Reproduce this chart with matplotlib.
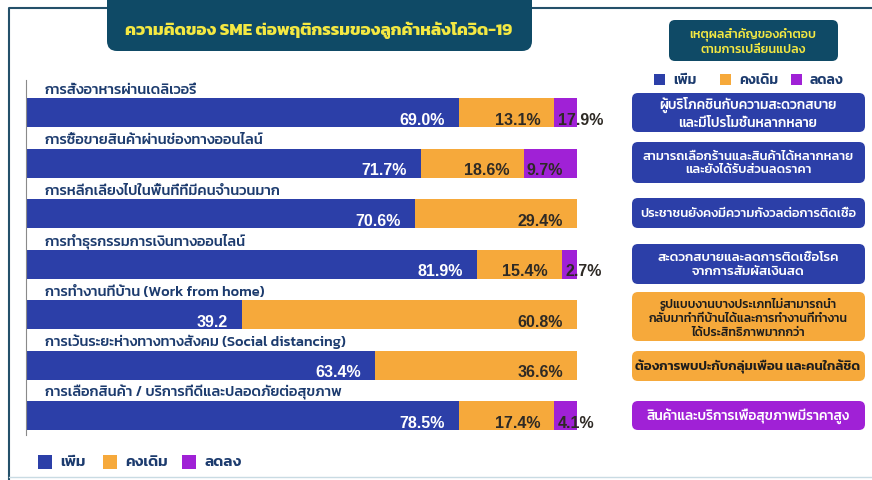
import matplotlib

matplotlib.use("Agg")
import matplotlib.pyplot as plt
from matplotlib.patches import FancyBboxPatch, Rectangle

plt.rcParams["font.family"] = ["Kanit", "DejaVu Sans"]

W, H = 872, 481
BLUE = "#2c3fa8"
ORANGE = "#f6a93b"
PURPLE = "#a021d6"
NAVY = "#1c3b6e"
TEAL = "#0f4a66"
YELLOW = "#f4e842"

TITLE = "ความคิดของ SME ต่อพฤติกรรมของลูกค้าหลังโควิด-19"
SERIES = ["เพิ่ม", "คงเดิม", "ลดลง"]

categories = [
    "การสั่งอาหารผ่านเดลิเวอรี่",
    "การซื้อขายสินค้าผ่านช่องทางออนไลน์",
    "การหลีกเลี่ยงไปในพื้นที่ที่มีคนจำนวนมาก",
    "การทำธุรกรรมการเงินทางออนไลน์",
    "การทำงานที่บ้าน (Work from home)",
    "การเว้นระยะห่างทางทางสังคม (Social distancing)",
    "การเลือกสินค้า / บริการที่ดีและปลอดภัยต่อสุขภาพ",
]
# bar lengths as drawn in the source (first row is drawn with the last row's split)
increase = [78.5, 71.7, 70.6, 81.9, 39.2, 63.4, 78.5]
same = [17.4, 18.6, 29.4, 15.4, 60.8, 36.6, 17.4]
decrease = [4.1, 9.7, 0.0, 2.7, 0.0, 0.0, 4.1]
# printed labels
increase_labels = ["69.0%", "71.7%", "70.6%", "81.9%", "39.2", "63.4%", "78.5%"]
same_labels = ["13.1%", "18.6%", "29.4%", "15.4%", "60.8%", "36.6%", "17.4%"]
decrease_labels = ["17.9%", "9.7%", "", "2.7%", "", "", "4.1%"]

panel_title = "เหตุผลสำคัญของคำตอบ\nตามการเปลี่ยนแปลง"
reasons = [
    "ผู้บริโภคชินกับความสะดวกสบาย\nและมีโปรโมชั่นหลากหลาย",
    "สามารถเลือกร้านและสินค้าได้หลากหลาย\nและยังได้รับส่วนลดราคา",
    "ประชาชนยังคงมีความกังวลต่อการติดเชื้อ",
    "สะดวกสบายและลดการติดเชื้อโรค\nจากการสัมผัสเงินสด",
    "รูปแบบงานบางประเภทไม่สามารถนำ\nกลับมาทำที่บ้านได้และการทำงานที่ทำงาน\nได้ประสิทธิภาพมากกว่า",
    "ต้องการพบปะกับกลุ่มเพื่อน และคนใกล้ชิด",
    "สินค้าและบริการเพื่อสุขภาพมีราคาสูง",
]
reason_kind = [0, 0, 0, 0, 1, 1, 2]
reason_size = [9.8, 9.4, 9.4, 9.6, 8.8, 9.6, 9.8]


def rbox(ax, x0, y0, x1, y1, color, r=6):
    ax.add_patch(
        FancyBboxPatch(
            (x0, y0), x1 - x0, y1 - y0,
            boxstyle=f"round,pad=0,rounding_size={r}",
            fc=color, ec="none", zorder=2,
        )
    )


def draw_bars(fig):
    top, bottom, left, right = 81, 436, 26, 577
    ax = fig.add_axes([left / W, 1 - bottom / H, (right - left) / W, (bottom - top) / H])
    rows = list(range(len(categories)))
    h = 29 / 50.5
    ax.barh(rows, increase, height=h, color=BLUE, zorder=2)
    ax.barh(rows, same, left=increase, height=h, color=ORANGE, zorder=2)
    starts = [a + b for a, b in zip(increase, same)]
    ax.barh(rows, decrease, left=starts, height=h, color=PURPLE, zorder=2)

    pad = 14 / 551 * 100
    for i in rows:
        ax.text(3.4, i - h / 2 - 0.1, categories[i], fontsize=10.5, fontweight="medium",
                color=NAVY, ha="left", va="baseline")
        y = i + 0.13
        ax.text(increase[i] - pad, y, increase_labels[i], family="Liberation Sans", fontsize=11.5,
                fontweight="bold", color="white", ha="right", va="center", zorder=3)
        ax.text(starts[i] - pad, y, same_labels[i], family="Liberation Sans", fontsize=11.5,
                fontweight="bold", color="#2e2a25", ha="right", va="center", zorder=3)
        if decrease_labels[i]:
            ax.text(starts[i] + 0.6, y, decrease_labels[i], family="Liberation Sans", fontsize=11.5,
                    fontweight="bold", color="#2e2a25", ha="left", va="center", zorder=3,
                    clip_on=False)

    ax.set_xlim(0, 100)
    ax.set_ylim(6 + (bottom - 416.5) / 50.5, -(113.5 - top) / 50.5)
    for s in ["top", "right", "bottom"]:
        ax.spines[s].set_visible(False)
    ax.spines["left"].set_color("#8a8a8a")
    ax.spines["left"].set_linewidth(0.8)
    ax.set_xticks([])
    ax.set_yticks([])
    ax.patch.set_alpha(0)


def draw_legend(ax, x, y, gaps, size=14, fontsize=11):
    colors = [BLUE, ORANGE, PURPLE]
    for name, c, g in zip(SERIES, colors, gaps):
        ax.add_patch(Rectangle((x, y - size / 2), size, size, fc=c, ec="none", zorder=2))
        ax.text(x + size + 8, y, name, fontsize=fontsize, fontweight="semibold", color=NAVY,
                ha="left", va="center")
        x += g


def main():
    fig = plt.figure(figsize=(W / 100, H / 100), dpi=100)
    fig.patch.set_facecolor("white")
    deco = fig.add_axes([0, 0, 1, 1])
    deco.set_xlim(0, W)
    deco.set_ylim(H, 0)
    deco.axis("off")

    # frame
    deco.plot([9, 9, 872], [481, 9, 9], color="#24506a", lw=1.5, zorder=1)
    deco.plot([9, 872], [478, 478], color="#c9dbe3", lw=1.0, zorder=1)

    # title tab
    rbox(deco, 107, -20, 532, 52, TEAL, r=10)
    deco.text(319, 30, TITLE, fontsize=12.3, fontweight="bold", color=YELLOW,
              ha="center", va="center", zorder=3)

    # right panel
    rbox(deco, 669, 21, 838, 62, TEAL, r=6)
    deco.text(753, 41, panel_title, fontsize=9, fontweight="medium", color=YELLOW,
              ha="center", va="center", linespacing=1.45, zorder=3)
    draw_legend(deco, 654, 80, [66, 71, 0], size=11, fontsize=10)

    box_y = [(94, 133), (143, 184), (199, 229), (245, 285), (293, 342), (352, 382), (402, 431)]
    fills = [BLUE, ORANGE, PURPLE]
    text_colors = ["white", "#1d1d1d", "white"]
    for txt, kind, fs, (y0, y1) in zip(reasons, reason_kind, reason_size, box_y):
        rbox(deco, 632, y0, 865, y1, fills[kind], r=6)
        deco.text(748, (y0 + y1) / 2, txt, fontsize=fs,
                  fontweight="semibold" if kind == 1 and fs > 9 else "medium",
                  color=text_colors[kind], ha="center", va="center",
                  linespacing=1.4 if fs < 9 else 1.45, zorder=3)

    draw_bars(fig)
    draw_legend(deco, 38, 463, [65, 79, 0], size=14, fontsize=11)

    fig.savefig("out.png", dpi=100)
    plt.close(fig)


if __name__ == "__main__":
    main()
